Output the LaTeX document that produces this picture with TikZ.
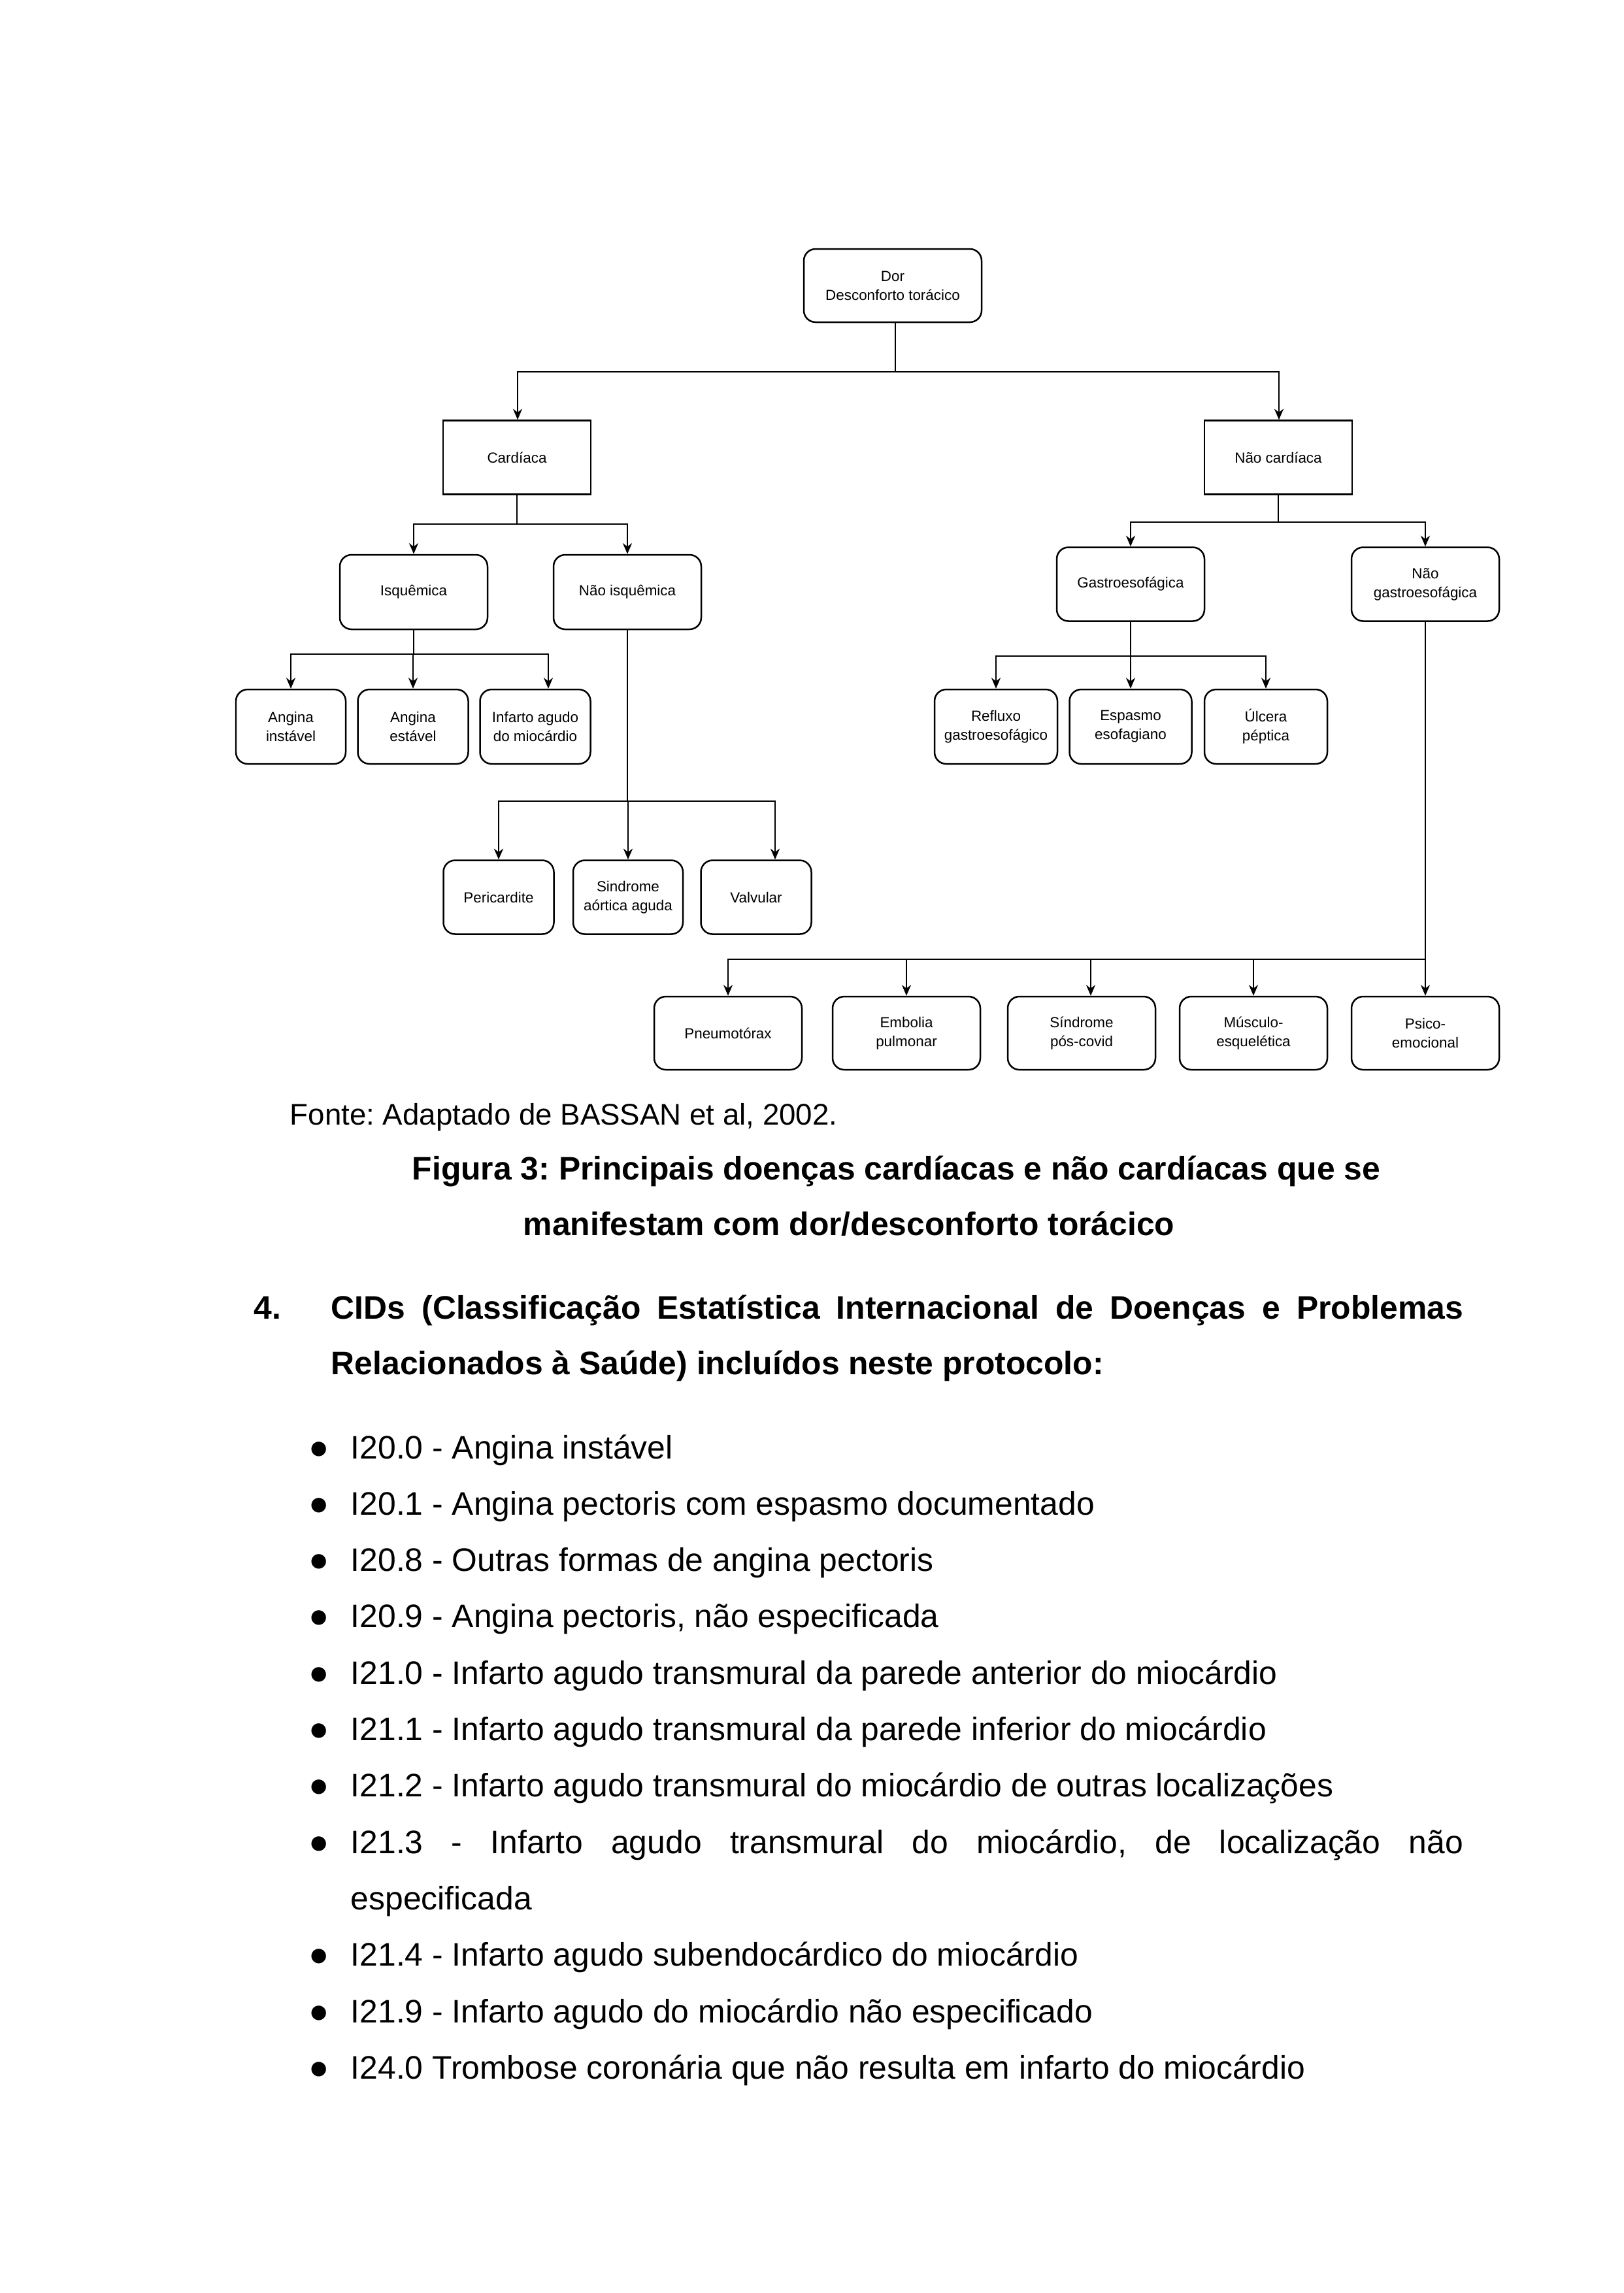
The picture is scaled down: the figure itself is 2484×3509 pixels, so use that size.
\documentclass[tikz,border=0pt]{standalone}
\usepackage{fontspec}
\setmainfont{Liberation Sans}
\usetikzlibrary{arrows.meta,calc}
\newcommand\pxu{0.24bp}
\frenchspacing
\begin{document}
\begin{tikzpicture}[x=0.24bp,y=-0.24bp,
  box/.style={draw=black, line width=0.6pt, inner sep=0pt, align=center,
    font=\fontsize{5.4}{7}\selectfont, minimum width=226*\pxu, minimum height=113*\pxu},
  rbox/.style={box, rounded corners=4.3bp},
  sbox/.style={box, sharp corners},
  arr/.style={-{Stealth[length=4pt,width=3.4pt]}, line width=0.55pt},
  txt/.style={anchor=base west, inner sep=0pt, font=\fontsize{12}{14}\selectfont},
  btxt/.style={txt, font=\bfseries\fontsize{12}{14}\selectfont},
  bul/.style={anchor=base, inner sep=0pt, font=\fontsize{12.5}{14}\selectfont}]
\useasboundingbox (0,0) rectangle (2484,3509);
\fill[white] (0,0) rectangle (2484,3509);

% ---------- diagram nodes ----------
\node[rbox, minimum width=272*\pxu, minimum height=112*\pxu] (dor) at (1366,437) {Dor\\Desconforto torácico};
\node[sbox] (card) at (791,700) {Cardíaca};
\node[sbox] (ncard) at (1956,700) {Não cardíaca};
\node[rbox, minimum height=114*\pxu] (isq) at (633,906) {Isquêmica};
\node[rbox, minimum height=114*\pxu] (nisq) at (960,906) {Não isquêmica};
\node[rbox, minimum width=168*\pxu, minimum height=114*\pxu] (ainst) at (445,1112) {Angina\\instável};
\node[rbox, minimum width=169*\pxu, minimum height=114*\pxu] (aest) at (632,1112) {Angina\\estável};
\node[rbox, minimum width=169*\pxu, minimum height=114*\pxu] (iam) at (819,1112) {Infarto agudo\\do miocárdio};
\node[rbox, minimum width=169*\pxu] (peri) at (763,1373) {Pericardite};
\node[rbox, minimum width=168*\pxu] (sao) at (961,1373) {Sindrome\\aórtica aguda};
\node[rbox, minimum width=169*\pxu] (valv) at (1157,1373) {Valvular};
\node[rbox] (gastro) at (1730,894) {Gastroesofágica};
\node[rbox] (ngastro) at (2181,894) {Não\\gastroesofágica};
\node[rbox, minimum width=188*\pxu, minimum height=114*\pxu] (refl) at (1524,1112) {Refluxo\\gastroesofágico};
\node[rbox, minimum width=187*\pxu, minimum height=114*\pxu] (espa) at (1730,1112) {Espasmo\\esofagiano};
\node[rbox, minimum width=188*\pxu, minimum height=114*\pxu] (ulc) at (1937,1112) {Úlcera\\péptica};
\node[rbox, minimum height=112*\pxu] (pneu) at (1114,1581) {Pneumotórax};
\node[rbox, minimum height=112*\pxu] (emb) at (1387,1581) {Embolia\\pulmonar};
\node[rbox, minimum height=112*\pxu] (pcov) at (1655,1581) {Síndrome\\pós-covid};
\node[rbox, minimum height=112*\pxu] (musc) at (1918,1581) {Músculo-\\esquelética};
\node[rbox, minimum height=112*\pxu] (psico) at (2181,1581) {Psico-\\emocional};

% ---------- connectors ----------
\draw[arr] ($(dor.south)+(4,0)$) -- ++(0,75) -| ($(card.north)+(1,0)$);
\draw[arr] ($(dor.south)+(4,0)$) -- ++(0,75) -| ($(ncard.north)+(1,0)$);

\draw[arr] (card.south) -- ++(0,44) -| (isq.north);
\draw[arr] (card.south) -- ++(0,44) -| (nisq.north);

\draw[arr] (isq.south) -- ++(0,37) -| (ainst.north);
\draw[arr] (isq.south) -- ++(0,37) -| (aest.north);
\draw[arr] (isq.south) -- ++(0,37) -| ($(iam.north)+(20,0)$);

\draw[arr] (nisq.south) -- ++(0,262) -| (peri.north);
\draw[arr] (nisq.south) -- ++(0,262) -| (sao.north);
\draw[arr] (nisq.south) -- ++(0,262) -| ($(valv.north)+(29,0)$);

\draw[arr] (ncard.south) -- ++(0,41) -| (gastro.north);
\draw[arr] (ncard.south) -- ++(0,41) -| (ngastro.north);

\draw[arr] (gastro.south) -- ++(0,52) -| (refl.north);
\draw[arr] (gastro.south) -- ++(0,52) -| (espa.north);
\draw[arr] (gastro.south) -- ++(0,52) -| (ulc.north);

\draw[arr] (ngastro.south) -- ++(0,516) -| (pneu.north);
\draw[arr] (ngastro.south) -- ++(0,516) -| (emb.north);
\draw[arr] (ngastro.south) -- ++(0,516) -| ($(pcov.north)+(14,0)$);
\draw[arr] (ngastro.south) -- ++(0,516) -| (musc.north);
\draw[arr] (ngastro.south) -- ++(0,516) -| (psico.north);

% ---------- text ----------
\node[txt, font=\fontsize{11}{13}\selectfont] (fonte) at (443,1721) {Fonte: Adaptado de BASSAN et al, 2002.};
\node[btxt] (fig1) at (630,1805) {Figura 3: Principais doenças cardíacas e não cardíacas que se};
\node[btxt] (fig2) at (800,1890) {manifestam com dor/desconforto torácico};
\node[btxt] (num) at (388,2018) {4.};
\node[btxt] (cid1) at (506,2018) {\makebox[415.7bp][s]{CIDs (Classificação Estatística Internacional de Doenças e Problemas}};
\node[btxt] (cid2) at (506,2103) {Relacionados à Saúde) incluídos neste protocolo:};

\foreach \t [count=\i from 0] in {
  {I20.0 - Angina instável},
  {I20.1 - Angina pectoris com espasmo documentado},
  {I20.8 - Outras formas de angina pectoris},
  {I20.9 - Angina pectoris, não especificada},
  {I21.0 - Infarto agudo transmural da parede anterior do miocárdio},
  {I21.1 - Infarto agudo transmural da parede inferior do miocárdio},
  {I21.2 - Infarto agudo transmural do miocárdio de outras localizações},
  {\makebox[408.5bp][s]{I21.3 - Infarto agudo transmural do miocárdio, de localização não}},
  {especificada},
  {I21.4 - Infarto agudo subendocárdico do miocárdio},
  {I21.9 - Infarto agudo do miocárdio não especificado},
  {I24.0 Trombose coronária que não resulta em infarto do miocárdio}} {
  \node[txt] (item\i) at (536,{2232+86.3*\i}) {\t};
}
\foreach \i in {0,1,2,3,4,5,6,7,9,10,11} {
  \node[bul] (bul\i) at (488,{2232+86.3*\i}) {●};
}
\end{tikzpicture}
\end{document}
